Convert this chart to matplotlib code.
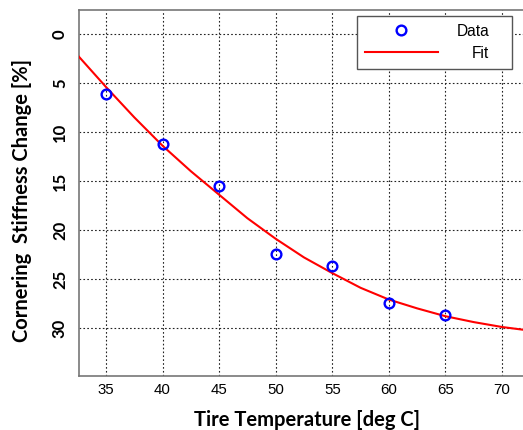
import numpy as np
import matplotlib
matplotlib.use("Agg")
import matplotlib.pyplot as plt

plt.rcParams['font.family'] = ['Liberation Sans', 'DejaVu Sans']

# measured points
temp = [35, 40, 45, 50, 55, 60, 65]
stiff_change = [6.1, 11.2, 15.5, 22.5, 23.7, 27.4, 28.7]

# fit curve
fit_temp = [32.6, 35, 37.5, 40, 42.5, 45, 47.5, 50, 52.5, 55, 57.5, 60, 62.5, 65, 67.5, 70, 72]
fit_change = [2.3, 5.4, 8.5, 11.4, 14.0, 16.4, 18.8, 20.9, 22.8, 24.4, 25.9, 27.1, 28.0, 28.8, 29.4, 29.9, 30.2]

xticks = [35, 40, 45, 50, 55, 60, 65, 70]
yticks = [0, 5, 10, 15, 20, 25, 30]

W, H = 523, 430
fig = plt.figure(figsize=(W / 100, H / 100), dpi=100)
ax = fig.add_axes([79 / W, 1 - 376 / H, (W - 79) / W, (376 - 9.5) / H])

ax.plot(fit_temp, fit_change, color='red', lw=1.5, label='Fit', zorder=3)
ax.plot(temp, stiff_change, linestyle='none', marker='o', ms=7, mfc='none',
        mec='blue', mew=1.7, label='Data', zorder=4)

ax.set_xlim(32.62, 71.85)
ax.set_ylim(34.9, -2.5)
ax.set_xticks(xticks, [str(v) for v in xticks], fontsize=10.8)
ax.set_yticks(yticks, [str(v) for v in yticks], fontsize=12, fontweight='bold',
              family=['Liberation Sans Narrow', 'Lato'], rotation=90, va='center')

ax.grid(True, color='#222222', linestyle=(0, (1.5, 2)), lw=0.8)
ax.tick_params(length=0)
ax.tick_params(axis='x', pad=5)
ax.tick_params(axis='y', pad=8)

for s in ['left', 'bottom', 'top']:
    ax.spines[s].set_color('#777777')
    ax.spines[s].set_linewidth(1.2)
ax.spines['right'].set_visible(False)

ax.set_xlabel('Tire Temperature [deg C]', family='Lato', fontweight='bold', fontsize=14.5)
ax.set_ylabel('Cornering  Stiffness Change [%]', family='Lato', fontweight='bold', fontsize=14.5)
ax.xaxis.set_label_coords(0.514, -0.093)
ax.yaxis.set_label_coords(-0.106, 0.48)

h, l = ax.get_legend_handles_labels()
leg = ax.legend(h[::-1], l[::-1], loc='upper left', mode='expand',
                bbox_to_anchor=(0.626, 0.0, 0.349, 0.982), borderaxespad=0,
                fancybox=False, edgecolor='#555555', framealpha=1,
                prop={'family': 'Liberation Sans', 'size': 11.2},
                handlelength=4.7, handletextpad=1.2, borderpad=0.5,
                labelspacing=0.45)
leg.get_frame().set_linewidth(1.0)

# right-align the legend texts like the original
fig.canvas.draw()
r = fig.canvas.get_renderer()
texts = leg.get_texts()
widths = [t.get_window_extent(r).width for t in texts]
for t, w in zip(texts, widths):
    t.set_x(max(widths) - w)

fig.savefig('out.png', dpi=100)
